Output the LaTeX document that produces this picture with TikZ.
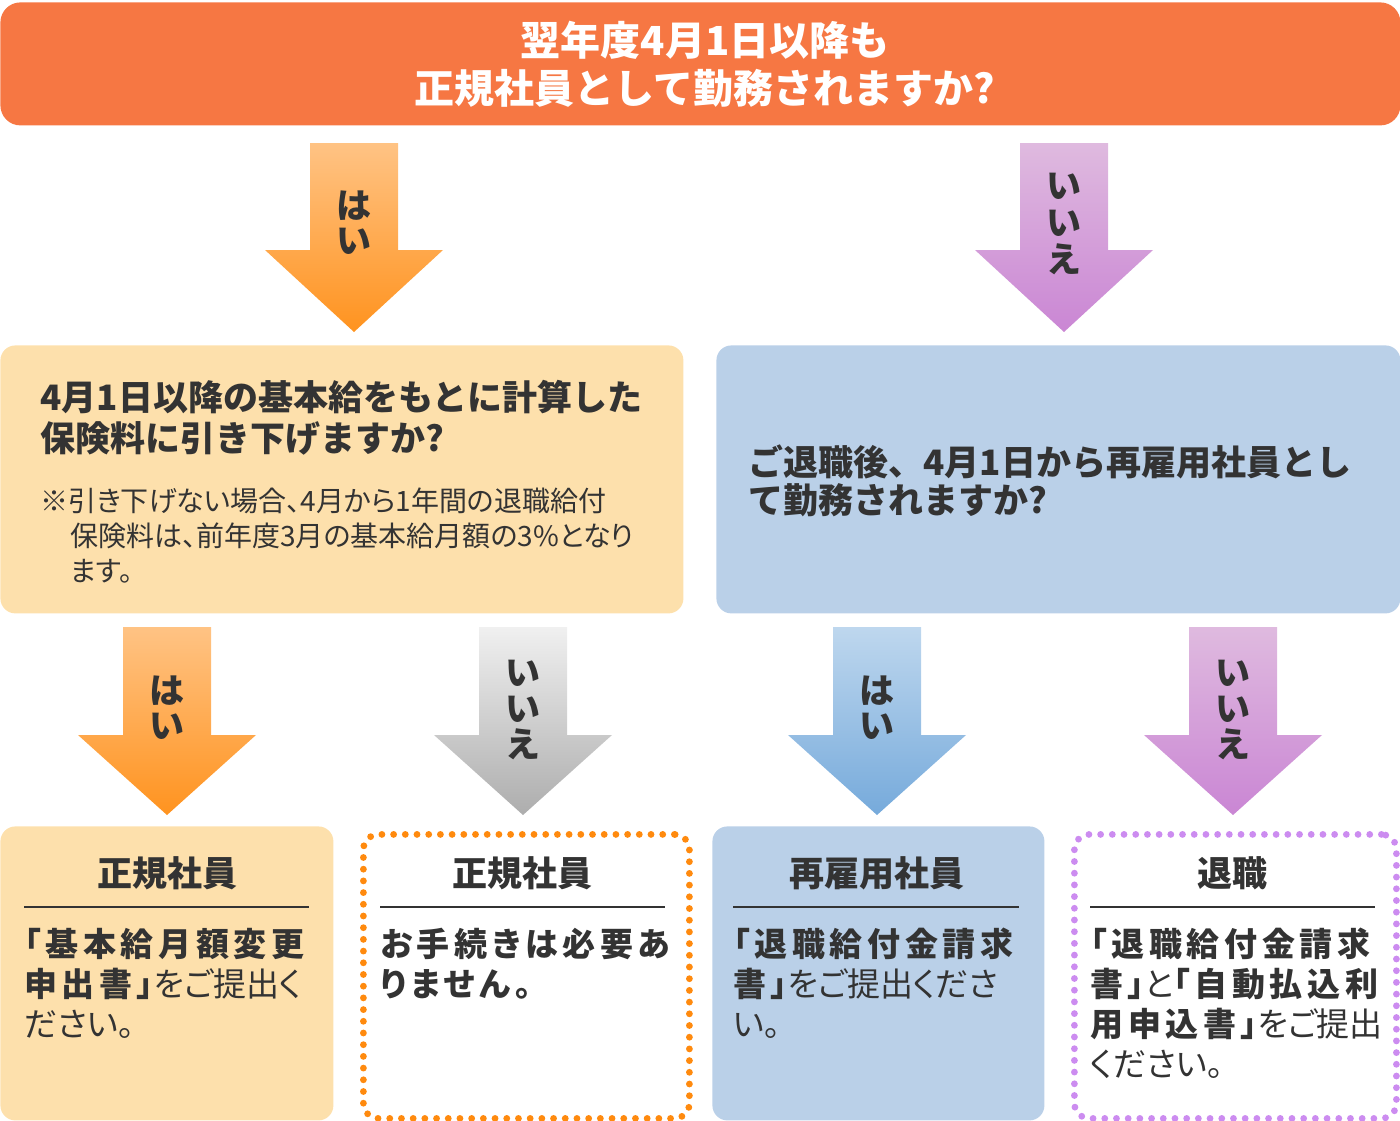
\documentclass[tikz,border=0pt]{standalone}
\usepackage{fontspec}
\setmainfont{Noto Sans CJK JP}
\newfontfamily\jpp{Noto Sans CJK JP}[RawFeature=+palt]
\newfontfamily\jpsp{Noto Sans CJK JP}[RawFeature=+palt,LetterSpace=14]
\usetikzlibrary{calc}
\definecolor{titlebg}{HTML}{F67743}
\definecolor{peach}{HTML}{FDE0AC}
\definecolor{lblue}{HTML}{BAD0E8}
\definecolor{ink}{HTML}{333333}
\definecolor{orA}{HTML}{FFC384}
\definecolor{orB}{HTML}{FF931F}
\definecolor{puA}{HTML}{DFBADF}
\definecolor{puB}{HTML}{CA86D4}
\definecolor{grA}{HTML}{F0F0F0}
\definecolor{grB}{HTML}{ADADAD}
\definecolor{blA}{HTML}{BED7EE}
\definecolor{blB}{HTML}{76AADB}
\definecolor{dotor}{HTML}{FF8A0E}
\definecolor{dotpu}{HTML}{CC8CF0}
\newcommand\bigarrow[6]{% cx, top, headstart, tip, colA, colB
  \shade[top color=#5,bottom color=#6] ({#1-44},{#2}) -- ({#1+44},{#2}) -- ({#1+44},{#3}) -- ({#1+89},{#3}) -- ({#1},{#4}) -- ({#1-89},{#3}) -- ({#1-44},{#3}) -- cycle;}
\begin{document}
\begin{tikzpicture}[x=0.5pt,y=-0.5pt,
  boxst/.style={rounded corners=7.5pt, inner sep=0pt, anchor=north west},
  dotbox/.style={rounded corners=7.5pt, inner sep=0pt, anchor=north west, line width=3.4pt, line cap=round, dash pattern=on 0pt off 5.85pt},
  ttl/.style={font=\fontsize{20}{24}\selectfont\bfseries, text=white, anchor=base, inner sep=0pt},
  qtxt/.style={font=\fontsize{17.5}{21}\selectfont\bfseries, text=ink, anchor=base west, inner sep=0pt},
  ntxt/.style={font=\fontsize{14}{17}\selectfont\jpp, text=ink, anchor=base west, inner sep=0pt},
  htxt/.style={font=\fontsize{17.5}{21}\selectfont\bfseries, text=ink, anchor=base, inner sep=0pt},
  btxt/.style={font=\fontsize{16.5}{20}\selectfont\jpp, text=ink, anchor=base west, inner sep=0pt},
  alab/.style={font=\fontsize{17.5}{21}\selectfont\bfseries, text=ink, anchor=base, inner sep=0pt},
  rule/.style={draw=ink, line width=1pt}]
\useasboundingbox (0,0) rectangle (1400,1120);
% title
\node[boxst, fill=titlebg, rounded corners=10pt, minimum width=700pt, minimum height=61.5pt] (title) at (0,2) {};
\node[ttl] (t1) at (705,55) {翌年度4月1日以降も};
\node[ttl] (t2) at (705,103) {正規社員として勤務されますか?};
% top arrows
\bigarrow{354}{143}{250}{332}{orA}{orB}
\bigarrow{1064}{143}{250}{332}{puA}{puB}
\node[alab] (a1a) at (354,218) {は};
\node[alab] (a1b) at (354,253) {い};
\node[alab] (a2a) at (1064,198) {い};
\node[alab] (a2b) at (1064,235) {い};
\node[alab] (a2c) at (1064,272) {え};
% question boxes
\node[boxst, fill=peach, minimum width=341.5pt, minimum height=134pt] (q1) at (0,345) {};
\node[boxst, fill=lblue, minimum width=342pt, minimum height=134pt] (q2) at (716,345) {};
\node[qtxt] (q1a) at (40,410) {4月1日以降の基本給をもとに計算した};
\node[qtxt] (q1b) at (40,451) {保険料に引き下げますか?};
\node[ntxt] (n1) at (40,511) {※引き下げない場合、4月から1年間の退職給付};
\node[ntxt] (n2) at (70,546) {保険料は、前年度3月の基本給月額の3\%となり};
\node[ntxt] (n3) at (70,581) {ます。};
\node[qtxt] (q2a) at (748,475) {ご退職後、4月1日から再雇用社員とし};
\node[qtxt] (q2b) at (748,513) {て勤務されますか?};
% lower arrows
\bigarrow{167}{627}{735}{815}{orA}{orB}
\bigarrow{523}{627}{735}{815}{grA}{grB}
\bigarrow{877}{627}{735}{815}{blA}{blB}
\bigarrow{1233}{627}{735}{815}{puA}{puB}
\node[alab] (b1a) at (167,703) {は};
\node[alab] (b1b) at (167,738) {い};
\node[alab] (b2a) at (523,685) {い};
\node[alab] (b2b) at (523,721) {い};
\node[alab] (b2c) at (523,757) {え};
\node[alab] (b3a) at (877,703) {は};
\node[alab] (b3b) at (877,738) {い};
\node[alab] (b4a) at (1233,685) {い};
\node[alab] (b4b) at (1233,721) {い};
\node[alab] (b4c) at (1233,757) {え};
% result boxes
\node[boxst, fill=peach, minimum width=166.5pt, minimum height=147pt] (r1) at (0,826) {};
\node[dotbox, draw=dotor, minimum width=163pt, minimum height=142pt] (r2) at (360,831) {};
\node[boxst, fill=lblue, minimum width=166pt, minimum height=147pt] (r3) at (712,826) {};
\node[dotbox, draw=dotpu, minimum width=161pt, minimum height=142pt] (r4) at (1071,831) {};
\node[htxt] (h1) at (167,886) {正規社員};
\node[htxt] (h2) at (522,886) {正規社員};
\node[htxt] (h3) at (877,886) {再雇用社員};
\node[htxt] (h4) at (1232,886) {退職};
\draw[rule] (24,907) -- (309,907);
\draw[rule] (380,907) -- (665,907);
\draw[rule] (733,907) -- (1019,907);
\draw[rule] (1090,907) -- (1375,907);
% body texts
\node[btxt] (c1a) at (24,956) {{\jpsp\bfseries 「基本給月額変更}};
\node[btxt] (c1b) at (24,996) {{\jpsp\bfseries 申出書」}をご提出く};
\node[btxt] (c1c) at (24,1036) {ださい。};
\node[btxt] (c2a) at (380,956) {{\jpsp\bfseries お手続きは必要あ}};
\node[btxt] (c2b) at (380,996) {{\jpsp\bfseries りません。}};
\node[btxt] (c3a) at (733,956) {{\jpsp\bfseries 「退職給付金請求}};
\node[btxt] (c3b) at (733,996) {{\jpsp\bfseries 書」}をご提出くださ};
\node[btxt] (c3c) at (733,1036) {い。};
\node[btxt] (c4a) at (1090,956) {{\jpsp\bfseries 「退職給付金請求}};
\node[btxt] (c4b) at (1090,996) {{\jpsp\bfseries 書」}と{\jpsp\bfseries 「自動払込利}};
\node[btxt] (c4c) at (1090,1036) {{\jpsp\bfseries 用申込書」}をご提出};
\node[btxt] (c4d) at (1090,1076) {ください。};
\end{tikzpicture}
\end{document}
